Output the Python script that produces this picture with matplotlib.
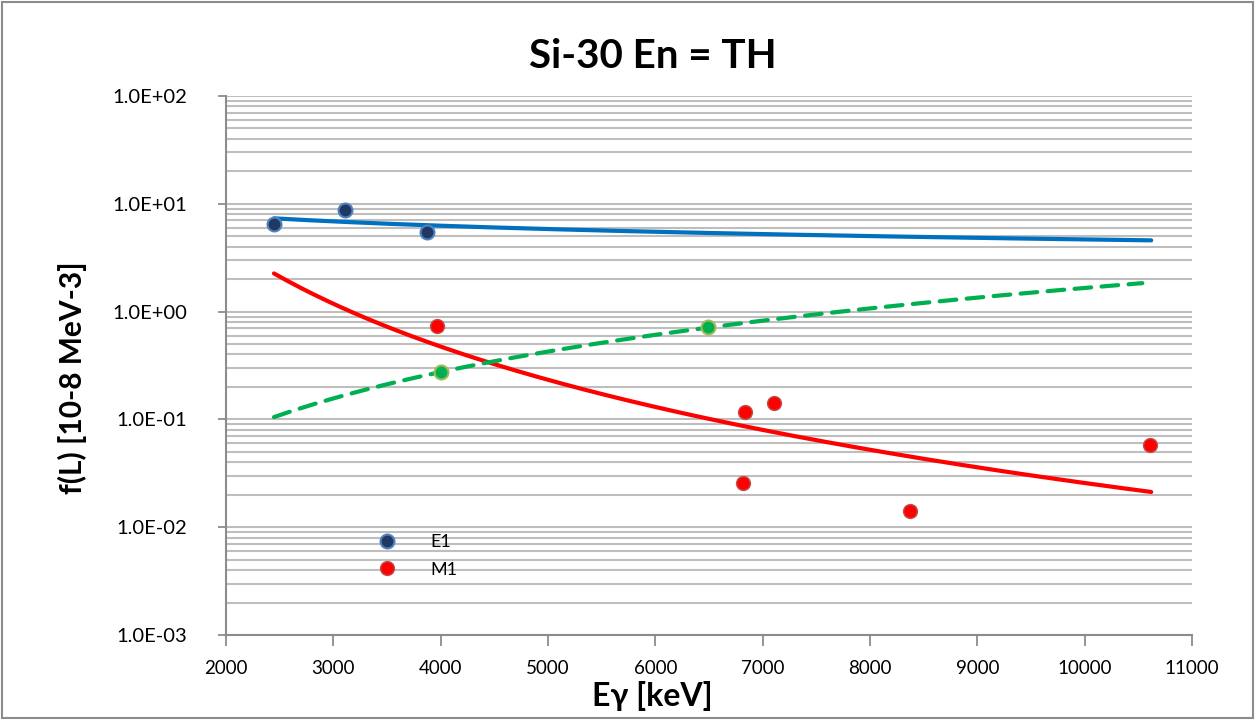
import numpy as np
import matplotlib
matplotlib.use("Agg")
import matplotlib.pyplot as plt
from matplotlib.patches import Rectangle
from matplotlib.ticker import FixedLocator, LogLocator, NullFormatter

plt.rcParams['font.family'] = ['Lato', 'DejaVu Sans']

# ---- data ----
e1_x = [2447, 3106, 3873]
e1_y = [6.5, 8.75, 5.5]

m1_x = [3966, 6837, 7107, 6818, 8375, 10611]
m1_y = [0.74, 0.117, 0.142, 0.0257, 0.0142, 0.058]

other_x = [4001, 6492]
other_y = [0.275, 0.72]

# power-law trendlines y = a * (x / x0)^b
trend_x0 = 2447
e1_trend = dict(a=7.33, b=-0.32, xmax=10620)
m1_trend = dict(a=2.26, b=-3.18, xmax=10620)
other_trend = dict(a=0.105, b=1.96, xmax=10537)

x_ticks = [2000, 3000, 4000, 5000, 6000, 7000, 8000, 9000, 10000, 11000]
y_ticks = [1e-3, 1e-2, 1e-1, 1e0, 1e1, 1e2]
y_tick_labels = ["1.0E-03", "1.0E-02", "1.0E-01", "1.0E+00", "1.0E+01", "1.0E+02"]

title = "Si-30 En = TH"
xlabel = "Eγ [keV]"
ylabel = "f(L) [10-8 MeV-3]"

W, H = 1255, 720
fig = plt.figure(figsize=(W / 100, H / 100), dpi=100)
ax = fig.add_axes([226 / W, (H - 635) / H, (1192 - 226) / W, (635 - 96) / H])

ax.set_yscale('log')
ax.set_xlim(2000, 11000)
ax.set_ylim(1e-3, 1e2)

grid_c = '#BEBEBE'
ax.yaxis.set_major_locator(FixedLocator(y_ticks))
ax.yaxis.set_minor_locator(LogLocator(base=10, subs=np.arange(2, 10), numticks=20))
ax.yaxis.set_minor_formatter(NullFormatter())
ax.set_yticklabels(y_tick_labels)
ax.set_xticks(x_ticks)
ax.grid(True, axis='y', which='both', color=grid_c, linewidth=1.5)
ax.set_axisbelow(True)

for s in ['top', 'right']:
    ax.spines[s].set_visible(False)
for s in ['left', 'bottom']:
    ax.spines[s].set_color('#8C8C8C')
    ax.spines[s].set_linewidth(1.5)

ax.tick_params(axis='both', which='major', direction='out', color='#8C8C8C',
               width=1.3, colors='#8C8C8C', labelcolor='black')
ax.tick_params(axis='x', which='major', length=8, pad=10, labelsize=13.5)
ax.tick_params(axis='y', which='major', length=6, pad=22, labelsize=14.5)
ax.tick_params(axis='y', which='minor', length=0)

# trendlines
for tr, col, ls in [(e1_trend, '#0070C0', '-'), (m1_trend, '#FF0000', '-'),
                    (other_trend, '#00B050', (0, (4, 2.5)))]:
    xs = np.linspace(trend_x0, tr['xmax'], 200)
    ax.plot(xs, tr['a'] * (xs / trend_x0) ** tr['b'], color=col, lw=3, ls=ls,
            solid_capstyle='round', dash_capstyle='round', zorder=3)

ms = 10
ax.plot(other_x, other_y, 'o', ms=ms, mfc='#00B050', mec='#9BBB59', mew=1.5, zorder=4)
ax.plot(e1_x, e1_y, 'o', ms=ms, mfc='#1F3864', mec='#4F81BD', mew=1.5, zorder=4, label='E1')
ax.plot(m1_x, m1_y, 'o', ms=ms, mfc='#FF0000', mec='#C0504D', mew=1.0, zorder=4, label='M1')

leg = ax.legend(loc='center left', bbox_to_anchor=(0.139, 0.147), frameon=False,
                fontsize=13, handlelength=1.2, handletextpad=1.8, labelspacing=0.65)

fig.text(653 / W, 1 - 57 / H, title, fontsize=29, fontweight='bold',
         ha='center', va='center')
ax.set_xlabel(xlabel, fontsize=23, fontweight='bold')
ax.xaxis.set_label_coords((652 - 226) / 966, -(696 - 635) / 539)
ax.xaxis.label.set_va('center')
ax.set_ylabel(ylabel, fontsize=21.5, fontweight='bold')
ax.yaxis.set_label_coords(-(226 - 72) / 966, (635 - 378) / 539)
ax.yaxis.label.set_va('center')

fig.patches.append(Rectangle((2 / W, 2 / H), (W - 4) / W, (H - 4) / H,
                             transform=fig.transFigure, fill=False,
                             edgecolor='#8C8C8C', linewidth=1.5))

fig.savefig('out.png', dpi=100)
